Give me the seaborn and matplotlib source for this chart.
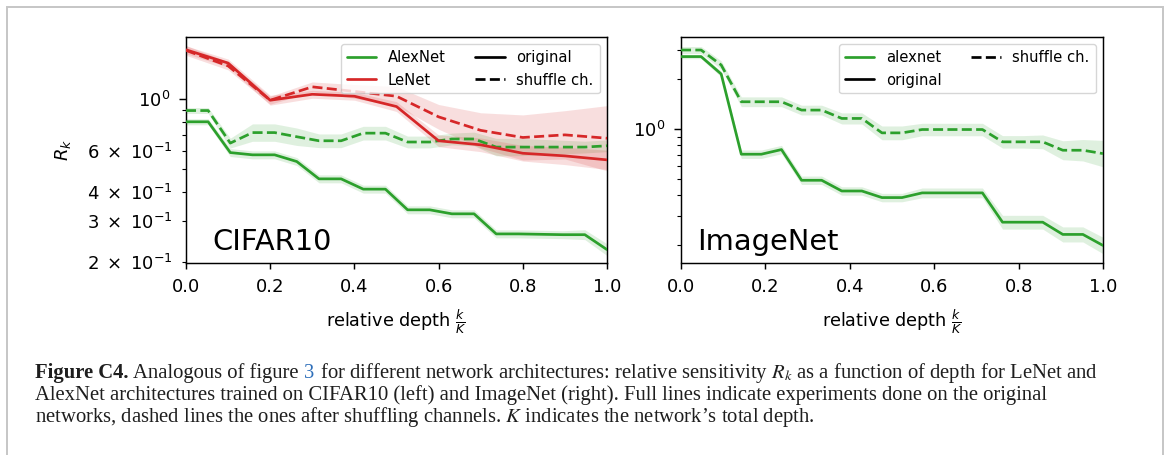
import numpy as np
import pandas as pd
import matplotlib
matplotlib.use("Agg")
import matplotlib.pyplot as plt
from matplotlib.lines import Line2D
from matplotlib.patches import Rectangle
from matplotlib.ticker import FuncFormatter
import seaborn as sns

# ---------------- data ----------------
depth_alexnet_cifar = np.arange(20) / 19
alexnet_cifar_original = [0.80, 0.80, 0.59, 0.577, 0.577, 0.54, 0.455, 0.455, 0.411, 0.411,
                          0.335, 0.335, 0.322, 0.322, 0.264, 0.264, 0.263, 0.262, 0.262, 0.226]
alexnet_cifar_original_spread = [0.03, 0.03, 0.04, 0.04, 0.04, 0.04, 0.04, 0.04, 0.04, 0.04,
                                 0.04, 0.04, 0.04, 0.04, 0.04, 0.04, 0.04, 0.04, 0.05, 0.06]
alexnet_cifar_shuffle = [0.894, 0.894, 0.648, 0.719, 0.719, 0.69, 0.663, 0.663, 0.715, 0.715,
                         0.655, 0.655, 0.675, 0.675, 0.623, 0.623, 0.623, 0.623, 0.623, 0.631]
alexnet_cifar_shuffle_spread = [0.03, 0.03, 0.05, 0.09, 0.09, 0.09, 0.07, 0.07, 0.07, 0.07,
                                0.06, 0.06, 0.06, 0.07, 0.09, 0.09, 0.08, 0.07, 0.06, 0.06]

depth_lenet_cifar = np.arange(11) / 10
lenet_cifar_original = [1.63, 1.43, 0.99, 1.05, 1.03, 0.93, 0.663, 0.637, 0.586, 0.571, 0.549]
lenet_cifar_original_spread = [0.04, 0.04, 0.05, 0.04, 0.04, 0.05, 0.06, 0.07, 0.08, 0.09, 0.10]
lenet_cifar_shuffle = [1.62, 1.39, 0.99, 1.13, 1.08, 1.03, 0.84, 0.735, 0.685, 0.703, 0.68]
lenet_cifar_shuffle_spread = [0.05, 0.04, 0.04, 0.05, 0.07, 0.10, 0.13, 0.19, 0.25, 0.27, 0.38]

depth_alexnet_imagenet = np.arange(22) / 21
alexnet_imagenet_original = [2.73, 2.73, 2.145, 0.707, 0.707, 0.754, 0.493, 0.493, 0.425, 0.425, 0.388,
                             0.388, 0.414, 0.414, 0.414, 0.414, 0.276, 0.276, 0.276, 0.233, 0.233, 0.20]
alexnet_imagenet_original_spread = [0.03, 0.03, 0.04, 0.06, 0.06, 0.06, 0.06, 0.06, 0.06, 0.06, 0.06,
                                    0.06, 0.07, 0.07, 0.07, 0.07, 0.10, 0.10, 0.10, 0.11, 0.11, 0.12]
alexnet_imagenet_shuffle = [2.99, 2.99, 2.43, 1.461, 1.461, 1.461, 1.302, 1.302, 1.16, 1.16, 0.95,
                            0.95, 0.995, 0.995, 0.995, 0.995, 0.839, 0.839, 0.839, 0.747, 0.747, 0.713]
alexnet_imagenet_shuffle_spread = [0.05, 0.05, 0.06, 0.07, 0.07, 0.07, 0.07, 0.07, 0.08, 0.08, 0.10,
                                   0.10, 0.09, 0.09, 0.09, 0.09, 0.09, 0.09, 0.10, 0.14, 0.16, 0.20]

GREEN = "#2ca02c"
RED = "#d62728"

caption_lines = [
    [("Figure C4.", dict(weight="bold")), (" Analogous of figure ", {}), ("3", dict(color="#2e6fba")),
     (" for different network architectures: relative sensitivity $R_k$ as a function of depth for LeNet and", {})],
    [("AlexNet architectures trained on CIFAR10 (left) and ImageNet (right). Full lines indicate experiments done on the original", {})],
    [("networks, dashed lines the ones after shuffling channels. $K$ indicates the network\u2019s total depth.", {})],
]

# ---------------- style ----------------
sns.set_style("ticks")
plt.rcParams.update({
    "font.family": ["DejaVu Sans"],
    "text.color": "black", "axes.labelcolor": "black",
    "axes.linewidth": 1.05,
    "xtick.major.width": 1.05, "ytick.major.width": 1.05,
    "ytick.minor.width": 0.8,
    "xtick.major.size": 4.6, "ytick.major.size": 4.8, "ytick.minor.size": 3.0,
    "xtick.major.pad": 6.8, "ytick.major.pad": 6.3, "ytick.minor.pad": 6.3,
    "xtick.labelsize": 13, "ytick.labelsize": 13,
    "axes.labelsize": 13,
    "xtick.color": "black", "ytick.color": "black",
    "axes.edgecolor": "black",
})

W, H = 1170, 455
fig = plt.figure(figsize=(W / 100, H / 100), dpi=100)
ax_l = fig.add_axes([186 / W, 1 - 262.5 / H, 421 / W, 225.5 / H])
ax_r = fig.add_axes([681 / W, 1 - 262.5 / H, 422 / W, 225.5 / H])

LW = 1.95
DASH = (3.7, 1.6)


def draw_series(ax, x, y, spread, color, dashed):
    y = np.asarray(y)
    s = 1 + np.asarray(spread)
    ax.fill_between(x, y / s, y * s, color=color, alpha=0.15, lw=0, zorder=1)
    sns.lineplot(x=x, y=y, ax=ax, color=color, lw=LW, errorbar=None,
                 dashes=False, zorder=3,
                 **({"linestyle": (0, DASH)} if dashed else {}))


# left panel: CIFAR10
draw_series(ax_l, depth_alexnet_cifar, alexnet_cifar_original, alexnet_cifar_original_spread, GREEN, False)
draw_series(ax_l, depth_alexnet_cifar, alexnet_cifar_shuffle, alexnet_cifar_shuffle_spread, GREEN, True)
draw_series(ax_l, depth_lenet_cifar, lenet_cifar_original, lenet_cifar_original_spread, RED, False)
draw_series(ax_l, depth_lenet_cifar, lenet_cifar_shuffle, lenet_cifar_shuffle_spread, RED, True)

# right panel: ImageNet
draw_series(ax_r, depth_alexnet_imagenet, alexnet_imagenet_original, alexnet_imagenet_original_spread, GREEN, False)
draw_series(ax_r, depth_alexnet_imagenet, alexnet_imagenet_shuffle, alexnet_imagenet_shuffle_spread, GREEN, True)

for ax in (ax_l, ax_r):
    ax.set_yscale("log")
    ax.set_xlim(0, 1)
    ax.set_xticks([0, 0.2, 0.4, 0.6, 0.8, 1.0])
    ax.set_xlabel(r"relative depth $\frac{k}{K}$", fontsize=12.7, labelpad=7.5)
    ax.set_ylabel("")

ax_l.set_ylim(0.199, 1.85)
ax_r.set_ylim(0.158, 3.58)
ax_l.set_ylabel("$R_k$", fontsize=13, labelpad=10)


def sci_label(v, pos):
    exp = int(np.floor(np.log10(v) + 1e-9))
    coeff = int(round(v / 10 ** exp))
    if coeff == 1:
        return r"$\mathdefault{10^{%d}}$" % exp
    if coeff in (2, 3, 4, 6):
        return r"$\mathdefault{%d\;\times\;10^{%d}}$" % (coeff, exp)
    return ""


ax_l.yaxis.set_minor_formatter(FuncFormatter(sci_label))
ax_r.yaxis.set_minor_formatter(FuncFormatter(lambda v, p: ""))

ax_l.text(0.062, 0.055, "CIFAR10", transform=ax_l.transAxes, fontsize=20.8, va="baseline")
ax_r.text(0.038, 0.055, "ImageNet", transform=ax_r.transAxes, fontsize=20.8, va="baseline")

solid = Line2D([], [], color="black", lw=LW)
dash = Line2D([], [], color="black", lw=LW, linestyle=(0, DASH))
leg_kw = dict(loc="upper right", ncol=2, fontsize=10.6, frameon=True, fancybox=True,
              edgecolor="#cccccc", framealpha=0.8)
ax_l.legend([Line2D([], [], color=GREEN, lw=LW), Line2D([], [], color=RED, lw=LW), solid, dash],
            ["AlexNet", "LeNet", "original", "shuffle ch."], **leg_kw)
ax_r.legend([Line2D([], [], color=GREEN, lw=LW), solid, dash],
            ["alexnet", "original", "shuffle ch."], **leg_kw)

# page frame around figure and caption
fig.patches.append(Rectangle((7 / W, -0.05), (1163 - 7) / W, 1 - 7 / H + 0.05,
                             transform=fig.transFigure, fill=False,
                             edgecolor="#c6c6c6", lw=1.4, zorder=0))

# caption
renderer = fig.canvas.get_renderer()
cap_font = dict(family=["Liberation Serif", "DejaVu Serif"], math_fontfamily="stix", color="#1e1e1e")


def seg_width(text, size, kw):
    style = {**cap_font, **kw}
    t = fig.text(0, 0, "|" + text + "|", fontsize=size, **style)
    w = t.get_window_extent(renderer).width
    t.remove()
    t2 = fig.text(0, 0, "||", fontsize=size, **style)
    w2 = t2.get_window_extent(renderer).width
    t2.remove()
    return w - w2


target = 1095 - 35
base = 12.0
w0 = sum(seg_width(t, base, kw) for t, kw in caption_lines[0])
cap_size = base * target / w0
baselines = [378, 400, 422]
for line, yb in zip(caption_lines, baselines):
    xpx = 35
    for text, kw in line:
        fig.text(xpx / W, 1 - yb / H, text, fontsize=cap_size, va="baseline", **{**cap_font, **kw})
        xpx += seg_width(text, cap_size, kw) + 0.6

fig.savefig("out.png", dpi=100)
